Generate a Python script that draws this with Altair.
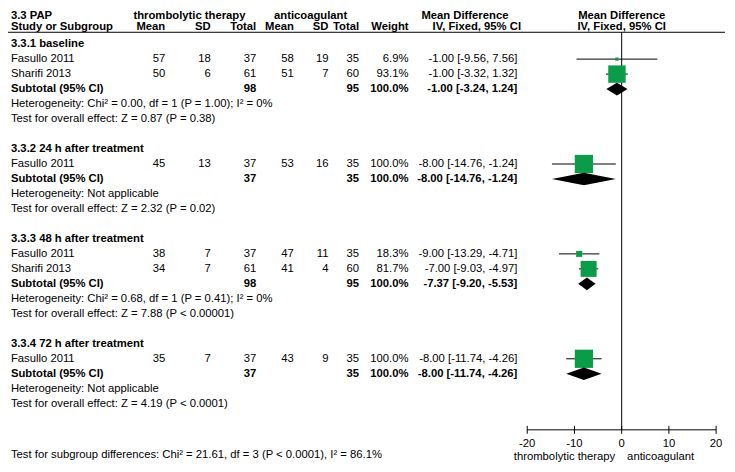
import altair as alt
import pandas as pd

# ---------------- data ----------------
title = "3.3 PAP"
groups = ["3.3.1 baseline", "3.3.2 24 h after treatment",
          "3.3.3 48 h after treatment", "3.3.4 72 h after treatment"]

study_names = ["Fasullo 2011", "Sharifi  2013", "Fasullo 2011",
               "Fasullo 2011", "Sharifi  2013", "Fasullo 2011"]
study_group = [0, 0, 1, 2, 2, 3]
t_mean = [57, 50, 45, 38, 34, 35]
t_sd = [18, 6, 13, 7, 7, 7]
t_total = [37, 61, 37, 37, 61, 37]
c_mean = [58, 51, 53, 47, 41, 43]
c_sd = [19, 7, 16, 11, 4, 9]
c_total = [35, 60, 35, 35, 60, 35]
weight = [6.9, 93.1, 100.0, 18.3, 81.7, 100.0]
md = [-1.00, -1.00, -8.00, -9.00, -7.00, -8.00]
lo = [-9.56, -3.32, -14.76, -13.29, -9.03, -11.74]
hi = [7.56, 1.32, -1.24, -4.71, -4.97, -4.26]

sub_t_total = [98, 37, 98, 37]
sub_c_total = [95, 35, 95, 35]
sub_md = [-1.00, -8.00, -7.37, -8.00]
sub_lo = [-3.24, -14.76, -9.20, -11.74]
sub_hi = [1.24, -1.24, -5.53, -4.26]
heterogeneity = [
    "Heterogeneity: Chi\u00b2 = 0.00, df = 1 (P = 1.00); I\u00b2 = 0%",
    "Heterogeneity: Not applicable",
    "Heterogeneity: Chi\u00b2 = 0.68, df = 1 (P = 0.41); I\u00b2 = 0%",
    "Heterogeneity: Not applicable",
]
overall = [
    "Test for overall effect: Z = 0.87 (P = 0.38)",
    "Test for overall effect: Z = 2.32 (P = 0.02)",
    "Test for overall effect: Z = 7.88 (P < 0.00001)",
    "Test for overall effect: Z = 4.19 (P < 0.0001)",
]
subgroup_test = "Test for subgroup differences: Chi\u00b2 = 21.61, df = 3 (P < 0.0001), I\u00b2 = 86.1%"
axis_ticks = [-20, -10, 0, 10, 20]
axis_tick_labels = ["-20", "-10", "0", "10", "20"]
favours_left = "thrombolytic therapy"
favours_right = "anticoagulant"

# ---------------- build tables ----------------
def ci_text(m, l, h):
    return f"{m:.2f} [{l:.2f}, {h:.2f}]"

cells = []      # row, col, text, bold
pts = []        # study points
dia = []        # diamond vertices
row = 0
for g, gname in enumerate(groups):
    cells.append((row, "label", gname, True))
    row += 1
    for i, s in enumerate(study_names):
        if study_group[i] != g:
            continue
        cells += [
            (row, "label", s, False),
            (row, "t_mean", str(t_mean[i]), False),
            (row, "t_sd", str(t_sd[i]), False),
            (row, "t_total", str(t_total[i]), False),
            (row, "c_mean", str(c_mean[i]), False),
            (row, "c_sd", str(c_sd[i]), False),
            (row, "c_total", str(c_total[i]), False),
            (row, "weight", f"{weight[i]:.1f}%", False),
            (row, "ci", ci_text(md[i], lo[i], hi[i]), False),
        ]
        pts.append(dict(row=row, md=md[i], lo=lo[i], hi=hi[i], w=weight[i]))
        row += 1
    cells += [
        (row, "label", "Subtotal (95% CI)", True),
        (row, "t_total", str(sub_t_total[g]), True),
        (row, "c_total", str(sub_c_total[g]), True),
        (row, "weight", "100.0%", True),
        (row, "ci", ci_text(sub_md[g], sub_lo[g], sub_hi[g]), True),
    ]
    hh = 0.42
    dia += [
        dict(d=g, x=sub_lo[g], y=row, y2=row),
        dict(d=g, x=sub_md[g], y=row - hh, y2=row + hh),
        dict(d=g, x=sub_hi[g], y=row, y2=row),
    ]
    row += 1
    cells.append((row, "label", heterogeneity[g], False))
    row += 1
    cells.append((row, "label", overall[g], False))
    row += 2

cells_df = pd.DataFrame(cells, columns=["row", "col", "text", "bold"])
pts_df = pd.DataFrame(pts)
dia_df = pd.DataFrame(dia)

FONT = "Liberation Sans"
FS = 11.4
GREEN = "#0a9c48"

yscale = alt.Scale(domain=[0, 24], range=[34, 34 + 24 * 15.15])
xscale = alt.Scale(domain=[-20, 20], range=[525, 716])

col_pos = {
    "label": (3, "left"),
    "t_mean": (159, "right"),
    "t_sd": (205, "right"),
    "t_total": (251, "right"),
    "c_mean": (289, "right"),
    "c_sd": (324, "right"),
    "c_total": (355, "right"),
    "weight": (405, "right"),
    "ci": (515, "right"),
}

layers = []
for col, (px, al) in col_pos.items():
    for b in (False, True):
        sub = cells_df[(cells_df.col == col) & (cells_df.bold == b)]
        if len(sub) == 0:
            continue
        layers.append(
            alt.Chart(sub).mark_text(
                align=al, baseline="middle", font=FONT, fontSize=FS,
                fontWeight="bold" if b else "normal", color="black"
            ).encode(
                x=alt.value(px),
                y=alt.Y("row:Q", scale=yscale, axis=None),
                text="text:N",
            )
        )

# header texts
def htext(txt, px, py, al="center", bold=True, base="middle"):
    return alt.Chart(pd.DataFrame({"t": [txt]})).mark_text(
        align=al, baseline=base, font=FONT, fontSize=FS,
        fontWeight="bold" if bold else "normal", color="black"
    ).encode(x=alt.value(px), y=alt.value(py), text="t:N")

headers = [
    htext(title, 3, 0, "left", True, "top"),
    htext("thrombolytic therapy", 183.5, 0, "center", True, "top"),
    htext("anticoagulant", 306, 0, "center", True, "top"),
    htext("Mean Difference", 462, 0, "center", True, "top"),
    htext("Mean Difference", 620.5, 0, "center", True, "top"),
    htext("Study or Subgroup", 3, 17, "left"),
    htext("Mean", 159, 17, "right"),
    htext("SD", 205, 17, "right"),
    htext("Total", 251, 17, "right"),
    htext("Mean", 289, 17, "right"),
    htext("SD", 324, 17, "right"),
    htext("Total", 355, 17, "right"),
    htext("Weight", 405, 17, "right"),
    htext("IV, Fixed, 95% CI", 474, 17),
    htext("IV, Fixed, 95% CI", 620.5, 17),
]
layers += headers

# header underline
layers.append(
    alt.Chart(pd.DataFrame({"a": [0]})).mark_rule(color="black", strokeWidth=1).encode(
        x=alt.value(0), x2=alt.value(725), y=alt.value(22)
    )
)

# zero line
layers.append(
    alt.Chart(pd.DataFrame({"v": [0]})).mark_rule(color="black", strokeWidth=1).encode(
        x=alt.X("v:Q", scale=xscale, axis=None), y=alt.value(22), y2=alt.value(424)
    )
)

# CI lines
layers.append(
    alt.Chart(pts_df).mark_rule(color="black", strokeWidth=1).encode(
        x=alt.X("lo:Q", scale=xscale, axis=None), x2="hi:Q",
        y=alt.Y("row:Q", scale=yscale, axis=None),
    )
)
# squares
layers.append(
    alt.Chart(pts_df).mark_square(color=GREEN, opacity=1, filled=True).encode(
        x=alt.X("md:Q", scale=xscale, axis=None),
        y=alt.Y("row:Q", scale=yscale, axis=None),
        size=alt.Size("w:Q", scale=alt.Scale(type="pow", exponent=1.3, domain=[0, 100], range=[0, 340]), legend=None),
    )
)
# diamonds
layers.append(
    alt.Chart(dia_df).mark_area(color="black", orient="vertical", opacity=1).encode(
        x=alt.X("x:Q", scale=xscale, axis=None),
        y=alt.Y("y:Q", scale=yscale, axis=None), y2="y2:Q",
        detail="d:N",
    )
)

# axis
layers.append(
    alt.Chart(pd.DataFrame({"a": [axis_ticks[0]], "b": [axis_ticks[-1]]})).mark_rule(color="black", strokeWidth=1).encode(
        x=alt.X("a:Q", scale=xscale, axis=None), x2="b:Q", y=alt.value(424)
    )
)
ticks_df = pd.DataFrame({"t": axis_ticks, "lab": axis_tick_labels})
layers.append(
    alt.Chart(ticks_df).mark_rule(color="black", strokeWidth=1).encode(
        x=alt.X("t:Q", scale=xscale, axis=None), y=alt.value(420), y2=alt.value(428)
    )
)
layers.append(
    alt.Chart(ticks_df).mark_text(font=FONT, fontSize=FS, align="center", baseline="middle", color="black").encode(
        x=alt.X("t:Q", scale=xscale, axis=None), y=alt.value(438), text="lab:N"
    )
)
layers.append(htext(favours_left, 614, 451, "right", False))
layers.append(htext(favours_right, 626, 451, "left", False))
layers.append(htext(subgroup_test, 3, 449, "left", False))

chart = alt.layer(*layers).properties(
    width=727, height=456, padding=0,
    autosize=alt.AutoSizeParams(type="none"),
).configure_view(stroke=None)

chart.save("out.html", embed_options={"renderer": "svg", "actions": False})
